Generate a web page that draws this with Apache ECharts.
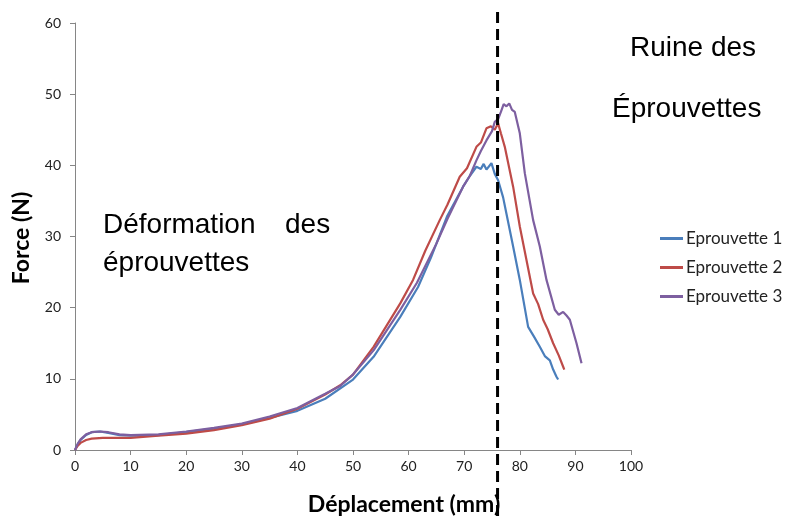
<!DOCTYPE html>
<html>
<head>
<meta charset="utf-8">
<script src="https://cdn.jsdelivr.net/npm/echarts@6/dist/echarts.min.js"></script>
<style>html,body{margin:0;padding:0;background:#fff}#c{width:787px;height:517px}</style>
</head>
<body>
<div id="c"></div>
<script>
const seriesNames = ['Eprouvette 1', 'Eprouvette 2', 'Eprouvette 3'];
const xTicks = [0,10,20,30,40,50,60,70,80,90,100];
const yTicks = [0,10,20,30,40,50,60];
const ruptureX = 76;

const x1 = [0,0.5,1,2,3,4.5,6,8,10,12,15,20,25,30,35,40,45,50,53.7,58.5,61.7,64,66.9,69.8,71,72.2,73,73.5,74,74.9,75.5,76.1,77,77.6,78.8,80,81.5,82.5,83.6,84.5,85.4,86,86.6,86.9];
const y1 = [0,0.8,1.4,2.1,2.5,2.6,2.4,2.1,2.0,2.0,2.1,2.5,3.0,3.6,4.5,5.5,7.2,9.9,13.1,18.7,22.9,27,32.8,37.0,38.5,39.8,39.5,40.2,39.4,40.3,38.8,37.9,35.5,33.2,28.6,23.9,17.3,16.0,14.5,13.2,12.6,11.3,10.3,9.9];

const x2 = [0,0.5,1,2,3,5,8,10,15,20,25,30,35,40,45,47.7,50,53.7,58.5,60.8,63,65.6,67,69.2,70.5,72.2,73,74,74.8,75.5,76.1,76.6,77.3,78.8,80,81.2,82.4,83.3,84.2,85,86,87,87.8,88];
const y2 = [0,0.6,1.0,1.4,1.6,1.7,1.7,1.7,2.0,2.3,2.8,3.5,4.4,5.8,7.8,9.1,10.6,14.5,20.6,23.9,28,32.3,34.5,38.4,39.6,42.6,43.2,45.2,45.5,45.0,45.9,44.5,42.6,37.0,31.4,26.7,22.0,20.5,18.3,17.0,15.0,13.3,11.7,11.3];

const x3 = [0,0.5,1,2,3,4.5,6,8,10,15,20,25,30,35,40,45,47.7,50,53.7,58.5,61.5,65,67,69.8,71,72.2,73,74,75,75.5,76.1,76.6,77.1,77.6,78.1,78.6,79.1,80,80.9,82.4,83.6,84.8,86.3,87,87.8,88.4,89,90.2,91.1];
const y3 = [0,0.9,1.5,2.2,2.5,2.6,2.5,2.2,2.1,2.2,2.6,3.1,3.7,4.7,5.9,7.9,9.0,10.6,14.0,19.7,23.5,29,32.5,37.0,38.5,40.7,42,43.5,44.8,46.1,46.5,47.5,48.6,48.3,48.7,47.8,47.5,44.5,38.9,32.3,28.6,23.9,19.7,19.0,19.4,18.9,18.3,15.0,12.2];

const colors = ['#4A7EBB', '#BE4B48', '#7D5FA0'];
const zip = (xs, ys) => xs.map((x, i) => [x, ys[i]]);
const allData = [zip(x1, y1), zip(x2, y2), zip(x3, y3)];

const chart = echarts.init(document.getElementById('c'), null, {renderer: 'canvas'});
const axisCommon = {
  axisLine: {show: true, lineStyle: {color: '#868686', width: 1}},
  axisTick: {show: true, inside: false, length: 5, lineStyle: {color: '#868686'}},
  splitLine: {show: false},
  axisLabel: {color: '#222', fontFamily: 'Lato', fontSize: 14}
};
chart.setOption({
  animation: false,
  color: colors,
  grid: {left: 75, right: 156, top: 23, bottom: 67, containLabel: false},
  legend: {
    orient: 'vertical', left: 655, top: 224, itemWidth: 23, itemHeight: 3, itemGap: 10,
    icon: 'rect',
    data: seriesNames,
    textStyle: {fontFamily: 'Lato', fontSize: 17, color: '#222', lineHeight: 19, padding: [0,0,0,-2]}
  },
  xAxis: Object.assign({}, axisCommon, {
    type: 'value', min: xTicks[0], max: xTicks[xTicks.length - 1], interval: 10,
    axisLabel: Object.assign({}, axisCommon.axisLabel, {margin: 9})
  }),
  yAxis: Object.assign({}, axisCommon, {
    type: 'value', min: yTicks[0], max: yTicks[yTicks.length - 1], interval: 10,
    axisLabel: Object.assign({}, axisCommon.axisLabel, {margin: 14})
  }),
  series: seriesNames.map((n, i) => ({
    name: n, type: 'line', data: allData[i], symbol: 'none', showSymbol: false,
    lineStyle: {width: 2.2, color: colors[i]}, smooth: false, z: 3 + i
  }))
});

const px = chart.convertToPixel({xAxisIndex: 0}, ruptureX);
const txt = {fontFamily: 'Liberation Sans', fontSize: 28, fill: '#000'};
const ttl = {fontFamily: 'Lato', fontWeight: 'bold', fontSize: 23, fill: '#000'};
chart.setOption({
  graphic: [
    {type: 'line', z: 10, shape: {x1: px, y1: 12, x2: px, y2: 517},
     style: {stroke: '#000', lineWidth: 3, lineDash: [11, 6]}},
    {type: 'text', left: 103, top: 211, style: Object.assign({text: 'Déformation'}, txt)},
    {type: 'text', left: 285, top: 211, style: Object.assign({text: 'des'}, txt)},
    {type: 'text', left: 103, top: 249, style: Object.assign({text: 'éprouvettes'}, txt)},
    {type: 'text', left: 630, top: 34, style: Object.assign({text: 'Ruine des'}, txt)},
    {type: 'text', left: 612, top: 95, style: Object.assign({text: 'Éprouvettes', fontSize: 29}, txt)},
    {type: 'text', x: 404, y: 505, z: 5,
     style: Object.assign({text: 'Déplacement (mm)', align: 'center', verticalAlign: 'middle'}, ttl)},
    {type: 'text', x: 22, y: 238, rotation: Math.PI / 2, z: 5,
     style: Object.assign({text: 'Force (N)', align: 'center', verticalAlign: 'middle'}, ttl)}
  ]
});
</script>
</body>
</html>
